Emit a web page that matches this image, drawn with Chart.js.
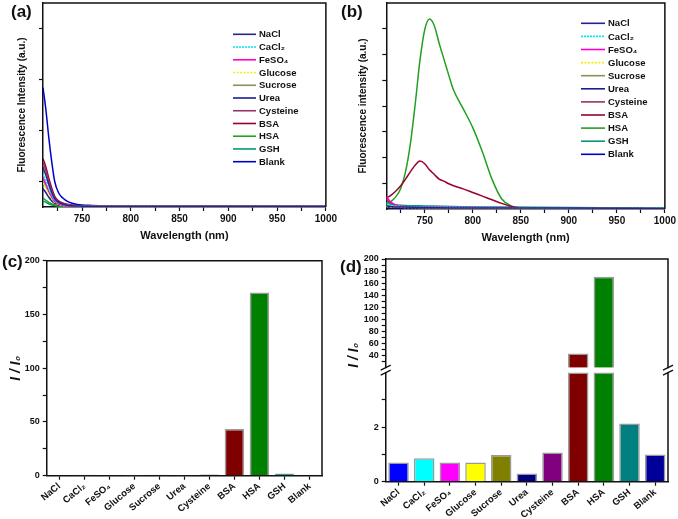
<!DOCTYPE html>
<html>
<head>
<title>Selectivity: fluorescence spectra and I/I0</title>
<script src="https://cdn.jsdelivr.net/npm/chart.js@4/dist/chart.umd.min.js"></script>
<style>
body { margin: 0; background: #fff; width: 678px; height: 519px; position: relative; overflow: hidden;
       font-family: "Liberation Sans", Arial, sans-serif; }
canvas { position: absolute; }
.tag { position: absolute; font-weight: bold; font-size: 17px; line-height: 17px; color: #111; }
</style>
</head>
<body>

<canvas id="chartA" width="339" height="245" style="left:0;top:0"></canvas>
<canvas id="chartB" width="339" height="245" style="left:339px;top:0"></canvas>
<canvas id="chartC" width="339" height="274" style="left:0;top:245px"></canvas>
<canvas id="chartD" width="339" height="274" style="left:339px;top:245px"></canvas>

<div class="tag" style="left:11px;top:3px">(a)</div>
<div class="tag" style="left:341px;top:3px">(b)</div>
<div class="tag" style="left:2px;top:253px">(c)</div>
<div class="tag" style="left:340px;top:258px">(d)</div>

<script>
// analytes, same order everywhere
const CATEGORIES = ['NaCl', 'CaCl\u2082', 'FeSO\u2084', 'Glucose', 'Sucrose', 'Urea', 'Cysteine', 'BSA', 'HSA', 'GSH', 'Blank'];

// (a) spectra, probe alone region
const WAVE_A    = [710, 713, 716, 719, 722, 726, 730, 736, 745, 760, 800, 900, 1000];
const A_NACL    = [0.78, 0.62, 0.44, 0.28, 0.16, 0.09, 0.06, 0.03, 0.02, 0.01, 0.01, 0.01, 0.01];
const A_CACL2   = [0.65, 0.52, 0.36, 0.23, 0.13, 0.08, 0.05, 0.03, 0.02, 0.01, 0.01, 0.01, 0.01];
const A_FESO4   = [0.58, 0.45, 0.31, 0.20, 0.11, 0.06, 0.04, 0.02, 0.01, 0.01, 0.01, 0.01, 0.01];
const A_GLUCOSE = [0.47, 0.37, 0.26, 0.16, 0.09, 0.05, 0.03, 0.02, 0.01, 0.01, 0.01, 0.01, 0.01];
const A_SUCROSE = [0.52, 0.41, 0.29, 0.18, 0.10, 0.06, 0.04, 0.02, 0.01, 0.01, 0.01, 0.01, 0.01];
const A_UREA    = [0.36, 0.28, 0.19, 0.12, 0.07, 0.04, 0.03, 0.02, 0.01, 0.01, 0.01, 0.01, 0.01];
const A_CYS     = [0.88, 0.71, 0.50, 0.32, 0.18, 0.10, 0.07, 0.04, 0.02, 0.01, 0.01, 0.01, 0.01];
const A_BSA     = [0.95, 0.78, 0.56, 0.37, 0.21, 0.12, 0.08, 0.05, 0.03, 0.02, 0.01, 0.01, 0.01];
const A_HSA     = [0.18, 0.13, 0.09, 0.06, 0.04, 0.02, 0.02, 0.01, 0.01, 0.01, 0.01, 0.01, 0.01];
const A_GSH     = [0.12, 0.09, 0.06, 0.04, 0.03, 0.02, 0.01, 0.01, 0.01, 0.01, 0.01, 0.01, 0.01];
const A_BLANK   = [2.34, 1.90, 1.35, 0.88, 0.50, 0.28, 0.18, 0.10, 0.05, 0.03, 0.02, 0.02, 0.01];

// (b) spectra
const WAVE_B = [710, 715, 720, 725, 730, 735, 740, 745, 750, 755, 760, 765, 770, 775, 780, 790, 800, 810, 820, 830, 840, 850, 860, 900, 1000];
const B_HSA  = [0.11, 0.15, 0.24, 0.40, 0.72, 1.26, 2.02, 2.88, 3.48, 3.69, 3.56, 3.22, 2.91, 2.60, 2.31, 1.95, 1.58, 1.11, 0.58, 0.20, 0.06, 0.01, 0.01, 0.005, 0];
const B_BSA  = [0.21, 0.27, 0.35, 0.45, 0.58, 0.72, 0.85, 0.93, 0.88, 0.76, 0.67, 0.58, 0.54, 0.49, 0.45, 0.39, 0.32, 0.25, 0.18, 0.11, 0.05, 0.02, 0.01, 0.005, 0];
const WAVE_B_LOW = [710, 715, 720, 730, 750, 800, 900, 1000];
const B_NACL    = [0.06, 0.05, 0.04, 0.04, 0.03, 0.02, 0.02, 0.01];
const B_CACL2   = [0.10, 0.07, 0.06, 0.05, 0.04, 0.03, 0.02, 0.02];
const B_FESO4   = [0.24, 0.13, 0.08, 0.05, 0.04, 0.03, 0.02, 0.01];
const B_GLUCOSE = [0.05, 0.04, 0.04, 0.03, 0.03, 0.02, 0.01, 0.01];
const B_SUCROSE = [0.07, 0.05, 0.04, 0.04, 0.03, 0.02, 0.02, 0.01];
const B_UREA    = [0.04, 0.03, 0.03, 0.03, 0.02, 0.02, 0.01, 0.01];
const B_CYS     = [0.19, 0.11, 0.07, 0.05, 0.04, 0.03, 0.02, 0.01];
const B_GSH     = [0.12, 0.09, 0.08, 0.07, 0.06, 0.04, 0.03, 0.02];
const B_BLANK   = [0.03, 0.03, 0.02, 0.02, 0.02, 0.02, 0.01, 0.01];

// (c)/(d) I/I0 per analyte
const RATIO = [0.70, 0.86, 0.70, 0.70, 0.98, 0.30, 1.07, 43.5, 170.5, 2.13, 1.00];

// tick values
const WAVE_MAJOR = [750, 800, 850, 900, 950, 1000];
const WAVE_MINOR = [725, 775, 825, 875, 925, 975];
const C_MAJOR = [0, 50, 100, 150, 200];
const C_MINOR = [25, 75, 125, 175];
const D_UP_MAJOR = [40, 60, 80, 100, 120, 140, 160, 180, 200];
const D_UP_MINOR = [30, 50, 70, 90, 110, 130, 150, 170, 190];
const D_LOW_MAJOR = [0, 2];
const D_LOW_MINOR = [1, 3];
const BREAK_LOW = 4;   // lower segment 0..4
const BREAK_HIGH = 20; // upper segment 20..200

const LINE_COLORS = ['#24248c', '#00e8f0', '#ff00cc', '#f2f200', '#8f8f5c', '#1c1c99', '#993366', '#990033', '#22a022', '#00997a', '#0000cc'];
const LINE_DASH   = [[], [2, 1], [], [2, 1.5], [], [], [], [], [], [], []];
const BAR_COLORS  = ['#0000ff', '#00ffff', '#ff00ff', '#ffff00', '#808000', '#000080', '#800080', '#800000', '#008000', '#008080', '#000099'];

const FONT = '"Liberation Sans", "DejaVu Sans", Arial, sans-serif';
Chart.defaults.font.family = FONT;
Chart.defaults.font.weight = 'bold';
Chart.defaults.color = '#111';
Chart.defaults.animation = false;
Chart.defaults.responsive = false;
Chart.defaults.plugins.legend.display = false;
Chart.defaults.plugins.tooltip.enabled = false;

const pts = (xs, ys) => xs.map((x, i) => ({ x: x, y: ys[i] }));
const tickList = (major, minor) => major.concat(minor).sort((a, b) => a - b).map(v => ({ value: v }));

// legend drawn inside the plot, like the original
const insideLegend = {
  id: 'insideLegend',
  afterDraw(chart, args, o) {
    if (o.x === undefined) return;
    const ctx = chart.ctx;
    ctx.save();
    ctx.font = 'bold 9.5px ' + FONT;
    ctx.textBaseline = 'middle';
    chart.data.datasets.forEach((ds, i) => {
      const y = o.y + i * o.step;
      ctx.strokeStyle = ds.borderColor;
      ctx.lineWidth = 1.6;
      ctx.setLineDash(ds.borderDash || []);
      ctx.beginPath();
      ctx.moveTo(o.x, y);
      ctx.lineTo(o.x + o.len, y);
      ctx.stroke();
      ctx.setLineDash([]);
      ctx.fillStyle = '#111';
      ctx.fillText(ds.label, o.x + o.len + 3, y + 0.5);
    });
    ctx.restore();
  }
};

// box frame + axis break marks
const frame = {
  id: 'frame',
  afterDraw(chart, args, o) {
    const ctx = chart.ctx, a = chart.chartArea;
    ctx.save();
    ctx.strokeStyle = '#111';
    ctx.lineWidth = 1.5;
    ctx.beginPath();
    ctx.moveTo(a.left, a.top);
    ctx.lineTo(a.right, a.top);
    ctx.lineTo(a.right, a.bottom);
    ctx.stroke();
    if (o.brk) {
      const y1 = chart.scales.yUp.bottom;
      const y2 = chart.scales.yLow.getPixelForValue(BREAK_LOW);
      ctx.fillStyle = '#fff';
      ctx.lineWidth = 1.3;
      [a.left, a.right].forEach(x => {
        ctx.fillRect(x - 2, y1 + 0.5, 4, y2 - y1 - 1);
        [y1, y2].forEach(y => {
          ctx.beginPath();
          ctx.moveTo(x - 5, y + 2.5);
          ctx.lineTo(x + 5, y - 2.5);
          ctx.stroke();
        });
      });
    }
    ctx.restore();
  }
};

const BORDER = { color: '#111', width: 1.5 };
const GRID = { drawOnChartArea: false, color: '#111', tickLength: 4, tickWidth: 1.2 };

function spectrumAxes(yWidth, xHeight, yTicks, yTitle, yPad, xPad) {
  return {
    x: {
      type: 'linear', min: 710, max: 1000,
      border: BORDER, grid: GRID,
      afterBuildTicks: s => { s.ticks = tickList(WAVE_MAJOR, WAVE_MINOR); },
      afterFit: s => { s.height = xHeight; },
      ticks: { padding: 2, font: { size: 10 }, maxRotation: 0, autoSkip: false,
               callback: v => WAVE_MAJOR.includes(v) ? String(v) : '' },
      title: { display: true, text: 'Wavelength (nm)', font: { size: 11 }, padding: { top: 0, bottom: xPad } }
    },
    y: {
      min: 0, max: 4,
      border: BORDER, grid: GRID,
      afterBuildTicks: s => { s.ticks = yTicks.map(v => ({ value: v })); },
      afterFit: s => { s.width = yWidth; },
      ticks: { display: false },
      title: { display: true, text: yTitle, font: { size: 10 }, padding: { top: yPad, bottom: 0 } }
    }
  };
}

const A_SERIES = [A_NACL, A_CACL2, A_FESO4, A_GLUCOSE, A_SUCROSE, A_UREA, A_CYS, A_BSA, A_HSA, A_GSH, A_BLANK];
new Chart(document.getElementById('chartA'), {
  type: 'line',
  data: {
    datasets: CATEGORIES.map((name, i) => ({
      label: name, data: pts(WAVE_A, A_SERIES[i]),
      borderColor: LINE_COLORS[i], borderDash: LINE_DASH[i]
    }))
  },
  options: {
    layout: { padding: { top: 3, right: 7, left: 0, bottom: 0 } },
    elements: { point: { radius: 0 }, line: { borderWidth: 1.5, tension: 0.4, cubicInterpolationMode: 'monotone' } },
    scales: spectrumAxes(43, 38, [0.5, 1.5, 2.5, 3.5], 'Fluorescence Intensity (a.u.)', 16, 2),
    plugins: { insideLegend: { x: 233, y: 34.3, step: 12.74, len: 23 }, frame: {} }
  },
  plugins: [insideLegend, frame]
});

const B_SERIES = [
  [WAVE_B_LOW, B_NACL], [WAVE_B_LOW, B_CACL2], [WAVE_B_LOW, B_FESO4], [WAVE_B_LOW, B_GLUCOSE],
  [WAVE_B_LOW, B_SUCROSE], [WAVE_B_LOW, B_UREA], [WAVE_B_LOW, B_CYS], [WAVE_B, B_BSA],
  [WAVE_B, B_HSA], [WAVE_B_LOW, B_GSH], [WAVE_B_LOW, B_BLANK]
];
new Chart(document.getElementById('chartB'), {
  type: 'line',
  data: {
    datasets: CATEGORIES.map((name, i) => ({
      label: name, data: pts(B_SERIES[i][0], B_SERIES[i][1]),
      borderColor: LINE_COLORS[i], borderDash: LINE_DASH[i]
    }))
  },
  options: {
    layout: { padding: { top: 3, right: 1, left: 0, bottom: 0 } },
    elements: { point: { radius: 0 }, line: { borderWidth: 1.5, tension: 0.4, cubicInterpolationMode: 'monotone' } },
    scales: spectrumAxes(47.3, 36, [0.5, 1, 1.5, 2, 2.5, 3, 3.5], 'Fluorescence intensity (a.u.)', 18, 0),
    plugins: { insideLegend: { x: 242, y: 23.3, step: 13.1, len: 24 }, frame: {} }
  },
  plugins: [insideLegend, frame]
});

const BAR_X = (h) => ({
  type: 'category', offset: true,
  border: BORDER, grid: Object.assign({}, GRID, { offset: false }),
  afterFit: s => { s.height = h; },
  ticks: { font: { size: 9.5 }, minRotation: 40, maxRotation: 40, autoSkip: false, padding: 1 }
});
const RATIO_TITLE = { display: true, text: 'I / I\u2080', font: { size: 14, style: 'italic' } };

new Chart(document.getElementById('chartC'), {
  type: 'bar',
  data: {
    labels: CATEGORIES,
    datasets: [{ data: RATIO, backgroundColor: BAR_COLORS, borderColor: '#9a9a9a', borderWidth: 1.5,
                 barPercentage: 0.78, categoryPercentage: 1 }]
  },
  options: {
    layout: { padding: { top: 15.7, right: 17, left: 0, bottom: 0 } },
    scales: {
      x: BAR_X(43.3),
      y: {
        min: 0, max: 200,
        border: BORDER, grid: GRID,
        afterBuildTicks: s => { s.ticks = tickList(C_MAJOR, C_MINOR); },
        afterFit: s => { s.width = 46.7; },
        ticks: { font: { size: 9 }, padding: 3, callback: v => C_MAJOR.includes(v) ? String(v) : '' },
        title: Object.assign({}, RATIO_TITLE, { padding: { top: 8, bottom: 0 } })
      }
    },
    plugins: { frame: {} }
  },
  plugins: [frame]
});

new Chart(document.getElementById('chartD'), {
  type: 'bar',
  data: {
    labels: CATEGORIES,
    datasets: [
      { yAxisID: 'yLow', data: RATIO.map(v => Math.min(v, BREAK_LOW)), grouped: false,
        backgroundColor: BAR_COLORS, borderColor: '#9a9a9a', borderWidth: 1.5, barPercentage: 0.8, categoryPercentage: 1 },
      { yAxisID: 'yUp', data: RATIO.map(v => v > BREAK_HIGH ? [BREAK_HIGH, v] : null), grouped: false,
        backgroundColor: BAR_COLORS, borderColor: '#9a9a9a', borderWidth: 1.5, barPercentage: 0.8, categoryPercentage: 1 }
    ]
  },
  options: {
    layout: { padding: { top: 14, right: 10, left: 0, bottom: 0 } },
    scales: {
      x: BAR_X(37.3),
      yLow: {
        position: 'left', stack: 'd', stackWeight: 114, min: 0, max: 4.18,
        border: BORDER, grid: GRID,
        afterBuildTicks: s => { s.ticks = tickList(D_LOW_MAJOR, D_LOW_MINOR); },
        afterFit: s => { s.width = 46.7; },
        ticks: { font: { size: 9 }, padding: 3, callback: v => D_LOW_MAJOR.includes(v) ? String(v) : '' }
      },
      yUp: {
        position: 'left', stack: 'd', stackWeight: 108.7, min: BREAK_HIGH, max: 200,
        border: BORDER, grid: GRID,
        afterBuildTicks: s => { s.ticks = tickList(D_UP_MAJOR, D_UP_MINOR); },
        afterFit: s => { s.width = 46.7; },
        ticks: { font: { size: 9 }, padding: 3, autoSkip: false, callback: v => D_UP_MAJOR.includes(v) ? String(v) : '' },
        title: Object.assign({}, RATIO_TITLE, { align: 'start', padding: { top: 7, bottom: 0 } })
      }
    },
    plugins: { frame: { brk: true } }
  },
  plugins: [frame]
});
</script>

</body>
</html>
